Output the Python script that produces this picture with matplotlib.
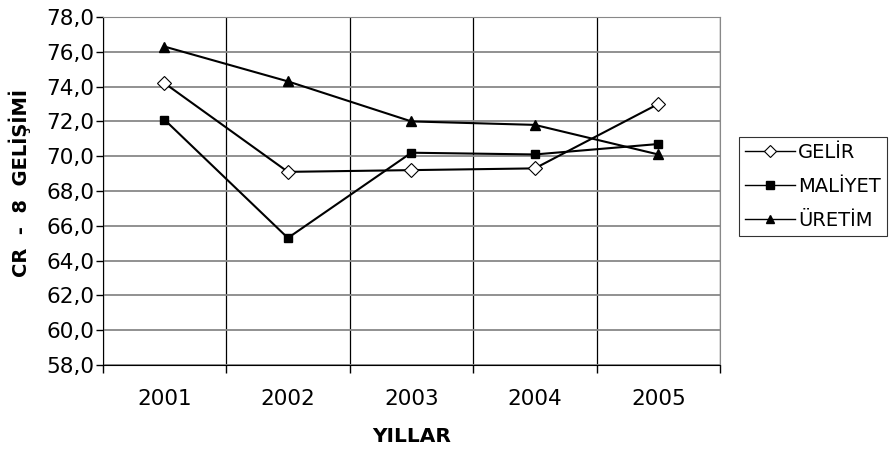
import numpy as np
import matplotlib.pyplot as plt
from matplotlib.ticker import FuncFormatter

# -------------------------------------------------------------------------
# Data
# -------------------------------------------------------------------------
years = ['2001', '2002', '2003', '2004', '2005']
gelir = [74.2, 69.1, 69.2, 69.3, 73.0]
maliyet = [72.1, 65.3, 70.2, 70.1, 70.7]
uretim = [76.3, 74.3, 72.0, 71.8, 70.1]
y_ticks = np.arange(58, 78.1, 2)


def main():
  plt.rcParams['font.family'] = ['DejaVu Sans']

  fig = plt.figure(figsize=(8.94, 4.5), dpi=100)
  ax = fig.add_axes([102.7 / 894, 1 - 365 / 450, (720 - 102.7) / 894, (365 - 17) / 450])

  x = np.arange(len(years))
  ax.plot(x, gelir, color='black', lw=1.5, marker='D', ms=7.5,
          mfc='white', mec='black', mew=0.8, label='GELİR', zorder=3)
  ax.plot(x, maliyet, color='black', lw=1.5, marker='s', ms=6.3,
          mfc='black', mec='black', label='MALİYET', zorder=3)
  ax.plot(x, uretim, color='black', lw=1.5, marker='^', ms=7,
          mfc='black', mec='black', label='ÜRETİM', zorder=3)

  ax.set_xlim(-0.5, len(years) - 0.5)
  ax.set_ylim(58, 78)

  # Category boundaries as grid, labels centred in the cells
  ax.set_xticks(np.arange(-0.5, len(years)), minor=False)
  ax.set_xticklabels([])
  ax.set_xticks(x, minor=True)
  ax.set_xticklabels(years, minor=True)
  ax.tick_params(axis='x', which='major', direction='out', length=6, width=1, color='black')
  ax.tick_params(axis='x', which='minor', length=0, pad=17, labelsize=15.5)

  ax.set_yticks(y_ticks)
  ax.yaxis.set_major_formatter(FuncFormatter(lambda v, p: f'{v:.1f}'.replace('.', ',')))
  ax.tick_params(axis='y', direction='out', length=5, width=1, labelsize=15.5, pad=1)

  ax.grid(axis='y', color='#888888', lw=1.3)
  ax.grid(axis='x', which='major', color='black', lw=0.9)

  for side in ['top', 'right']:
    ax.spines[side].set_color('#888888')
  for side in ['left', 'bottom']:
    ax.spines[side].set_color('black')

  ax.set_xlabel('YILLAR', fontsize=14.5, fontweight='bold')
  ax.xaxis.set_label_coords(0.5, -(437 - 365) / 348, transform=ax.transAxes)
  ax.xaxis.label.set_va('center')
  ax.set_ylabel('CR  -  8  GELİŞİMİ', fontsize=14, fontweight='bold')
  ax.yaxis.set_label_coords(-(102.7 - 20) / 617, (365 - 183) / 348, transform=ax.transAxes)
  ax.yaxis.label.set_va('center')

  leg = fig.legend(loc='upper left', bbox_to_anchor=(739 / 894, 1 - 137 / 450),
                   frameon=True, fancybox=False, edgecolor='black',
                   fontsize=14, handlelength=2.6, handletextpad=0.15,
                   borderpad=0.3, labelspacing=0.78, borderaxespad=0)
  leg.get_frame().set_linewidth(0.8)
  for h in leg.legend_handles:
    h.set_linewidth(1.0)
    h.set_markersize(h.get_markersize() * 0.85)

  fig.savefig('out.png', dpi=100)


if __name__ == "__main__":
  main()
